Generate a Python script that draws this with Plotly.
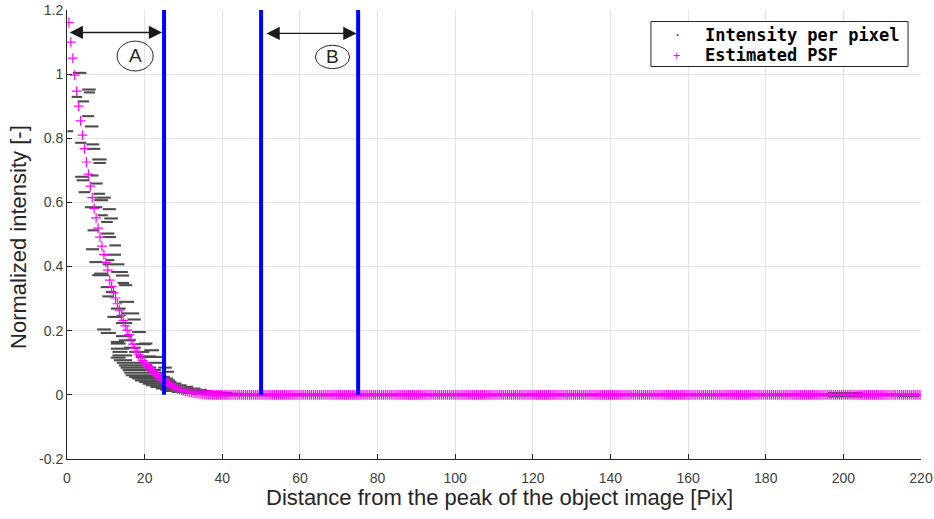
import numpy as np
import plotly.graph_objects as go

# ---------------- data ----------------
x_ticks = [0, 20, 40, 60, 80, 100, 120, 140, 160, 180, 200, 220]
y_ticks = [-0.2, 0, 0.2, 0.4, 0.6, 0.8, 1.0, 1.2]
y_tick_labels = ["-0.2", "0", "0.2", "0.4", "0.6", "0.8", "1", "1.2"]

# Estimated PSF (decaying part), sampled every 0.5 pix
psf_x = list(np.arange(0.5, 40.01, 0.5))
psf_y = [1.161, 1.100, 1.050, 0.997, 0.947, 0.900, 0.854, 0.810, 0.768, 0.726,
         0.688, 0.651, 0.615, 0.581, 0.552, 0.520, 0.492, 0.464, 0.437, 0.413,
         0.389, 0.358, 0.338, 0.318, 0.302, 0.284, 0.264, 0.248, 0.232, 0.215,
         0.202, 0.188, 0.173, 0.158, 0.146, 0.135, 0.125, 0.116, 0.107, 0.099,
         0.093, 0.086, 0.080, 0.074, 0.068, 0.062, 0.057, 0.053, 0.048, 0.044,
         0.040, 0.036, 0.032, 0.028, 0.025, 0.022, 0.019, 0.017, 0.015, 0.013,
         0.011, 0.010, 0.008, 0.007, 0.006, 0.005, 0.004, 0.004, 0.003, 0.002,
         0.002, 0.001, 0.001, 0.001, 0.000, 0.000, 0.000, 0.000, 0.000, 0.000]
# flat tail of the PSF (read as zero level)
psf_tail_x = list(np.arange(40.5, 220.01, 0.5))
psf_tail_level = 0.0

# Intensity per pixel: clusters of pixels (x start, x end, intensity)
pix_x0 = [1.5, 3.9, 4.4, 1.2, 2.7, 3.9, 4.6, 0.1, 2.1, 5.0, 5.2, 6.5, 6.8, 2.1, 2.5, 6.0, 6.2,
          3.0, 6.8, 7.2, 7.0, 4.6, 9.2, 7.9, 9.6, 8.8, 5.3, 8.8, 9.2, 10.9, 4.9, 9.6, 10.1,
          5.8, 9.2, 7.0, 11.4, 6.5, 12.6, 13.0, 13.4, 8.7, 10.0, 9.1, 13.4, 11.3, 13.9,
          10.4, 15.6, 12.6, 7.8, 8.7, 16.8, 12.6, 13.4, 11.3, 17.7, 14.7, 11.7, 16.0,
          17.7, 11.3,
          11.3, 18.6, 11.3, 19.9, 11.7, 19.4, 12.1, 12.8, 21.0, 13.4, 13.8, 23.5, 14.3,
          24.5, 14.7, 15.1, 16.0, 16.8, 17.5, 18.6, 19.5, 20.3, 21.5, 22.9, 24.0, 25.5,
          27.0, 29.7, 32.0,
          38.0, 38.0, 196.0, 196.0, 214.0]
pix_x1 = [5.0, 7.4, 7.2, 3.9, 5.7, 7.0, 8.1, 1.6, 5.0, 8.3, 8.6, 10.2, 10.0, 5.4, 5.8, 8.1, 9.2,
          6.0, 9.8, 11.3, 10.6, 9.1, 12.6, 10.5, 13.1, 11.8, 8.3, 12.2, 12.6, 13.9, 8.3, 13.9, 12.2,
          9.2, 14.8, 10.5, 15.7, 10.8, 16.0, 16.0, 16.8, 12.1, 12.6, 12.1, 17.3, 15.1, 18.6,
          14.3, 19.0, 16.8, 11.3, 12.6, 20.3, 16.8, 17.7, 14.7, 21.6, 19.0, 15.6, 21.2,
          22.9, 15.1,
          15.1, 22.0, 16.0, 23.7, 16.8, 24.6, 16.8, 20.0, 25.5, 22.0, 23.0, 27.0, 24.2,
          27.6, 25.0, 25.5, 26.5, 27.3, 27.8, 28.2, 29.5, 30.8, 32.5, 34.4, 36.0, 37.5,
          40.0, 42.6, 45.0,
          219.5, 219.5, 205.0, 205.0, 219.5]
pix_y = [1.004, 0.952, 0.943, 0.929, 0.915, 0.869, 0.837, 0.822, 0.786, 0.781, 0.767, 0.734, 0.723,
         0.680, 0.669, 0.684, 0.659, 0.632, 0.627, 0.615, 0.607, 0.585, 0.579, 0.560, 0.550,
         0.539, 0.513, 0.503, 0.492, 0.466, 0.454, 0.437, 0.420, 0.414, 0.407, 0.378, 0.383,
         0.373, 0.372, 0.349, 0.342, 0.336, 0.321, 0.307, 0.290, 0.269, 0.254, 0.243, 0.235,
         0.224, 0.204, 0.193, 0.196, 0.183, 0.170, 0.165, 0.158, 0.147, 0.134, 0.134, 0.120,
         0.116,
         0.160, 0.160, 0.144, 0.139, 0.123, 0.118, 0.108, 0.100, 0.100, 0.092, 0.085, 0.085,
         0.077, 0.072, 0.069, 0.061, 0.056, 0.051, 0.045, 0.040, 0.035, 0.030, 0.025, 0.020,
         0.016, 0.012, 0.009, 0.006, 0.003,
         0.002, -0.002, 0.006, -0.005, -0.004]

# vertical region boundaries and annotations
region_x = [25, 50, 75]
region_top = 1.2
arrow_a = {"x0": 0.3, "x1": 24.5, "y": 1.130}
arrow_b = {"x0": 51.0, "x1": 74.6, "y": 1.127}
label_a = {"text": "A", "x": 17.55, "y": 1.057, "x0": 12.9, "x1": 22.2, "y0": 1.010, "y1": 1.103}
label_b = {"text": "B", "x": 68.4, "y": 1.054, "x0": 64.0, "x1": 72.8, "y0": 1.017, "y1": 1.090}

legend_names = ["Intensity per pixel", "Estimated PSF"]

# ---------------- figure ----------------
seg_x, seg_y = [], []
for a, b, v in zip(pix_x0, pix_x1, pix_y):
    seg_x += [a, b, None]
    seg_y += [v, v, None]

fig = go.Figure()
fig.add_trace(go.Scatter(x=seg_x, y=seg_y, mode="lines", name=legend_names[0], showlegend=False,
                         line=dict(color="#3a3a3a", width=2.1), opacity=0.9, hoverinfo="skip"))
all_psf_x = psf_x + psf_tail_x
all_psf_y = psf_y + [psf_tail_level] * len(psf_tail_x)
fig.add_trace(go.Scatter(x=all_psf_x, y=all_psf_y, mode="markers", name=legend_names[1],
                         showlegend=False,
                         marker=dict(symbol="cross-thin", size=7, color="#ff00ff",
                                     line=dict(width=1.2, color="#ff00ff"))))

for xv in region_x:
    fig.add_shape(type="line", x0=xv, x1=xv, y0=0, y1=region_top, xref="x", yref="y",
                  line=dict(color="#0000ff", width=4), layer="above")

for lab in (label_a, label_b):
    fig.add_shape(type="circle", x0=lab["x0"], x1=lab["x1"], y0=lab["y0"], y1=lab["y1"],
                  xref="x", yref="y", line=dict(color="#262626", width=1))
    fig.add_annotation(x=lab["x"], y=lab["y"], xref="x", yref="y", text=lab["text"],
                       showarrow=False, font=dict(family="Liberation Sans", size=19, color="#262626"))

for arr in (arrow_a, arrow_b):
    fig.add_annotation(x=arr["x1"], y=arr["y"], ax=arr["x0"], ay=arr["y"], xref="x", yref="y",
                       axref="x", ayref="y", text="", showarrow=True, arrowside="end+start",
                       arrowhead=2, arrowsize=1.9, arrowwidth=1.4, arrowcolor="#1a1a1a",
                       standoff=0, startstandoff=0)

# legend box (drawn manually to match the compact MATLAB legend)
fig.add_shape(type="rect", xref="paper", yref="paper", x0=0.6838, x1=0.9848, y0=0.8742, y1=0.9744,
              line=dict(color="#262626", width=1), fillcolor="white", layer="above")
legend_rows_y = [0.9454, 0.8987]
legend_syms = [("\u00b7", "#333333", 16), ("+", "#ff00ff", 13)]
for name, ry, (sym, scol, ssize) in zip(legend_names, legend_rows_y, legend_syms):
    fig.add_annotation(x=0.7143, y=ry, xref="paper", yref="paper", text=sym, showarrow=False,
                       xanchor="center", yanchor="middle",
                       font=dict(family="Liberation Sans", size=ssize, color=scol))
    fig.add_annotation(x=0.7447, y=ry, xref="paper", yref="paper", text=name, showarrow=False,
                       xanchor="left", yanchor="middle",
                       font=dict(family="DejaVu Sans Mono", size=17, color="#000000", weight="bold"))

fig.add_annotation(x=0.507, y=-0.0853, xref="paper", yref="paper",
                   text="Distance from the peak of the object image [Pix]", showarrow=False,
                   yanchor="middle", font=dict(family="Liberation Sans", size=22, color="#262626"))
fig.add_annotation(x=-0.0574, y=0.4944, xref="paper", yref="paper", textangle=-90,
                   text="Normalized intensity [-]", showarrow=False, xanchor="center",
                   font=dict(family="Liberation Sans", size=22, color="#262626"))

axis_common = dict(showline=True, linecolor="#262626", linewidth=1, ticks="inside", ticklen=5,
                   tickcolor="#262626", showgrid=True, gridcolor="#e3e3e3", gridwidth=1,
                   zeroline=False, automargin=False,
                   tickfont=dict(family="Liberation Sans", size=14, color="#404040"))
fig.update_xaxes(range=[0, 220], tickvals=x_ticks, ticklabelstandoff=6, **axis_common)
fig.update_yaxes(range=[-0.2, 1.2], tickvals=y_ticks, ticktext=y_tick_labels, **axis_common)

fig.update_layout(
    width=934, height=519,
    margin=dict(l=67, r=13, t=9.5, b=60.3, autoexpand=False),
    plot_bgcolor="white", paper_bgcolor="white",
    showlegend=False,
)

fig.write_html("out.html")
